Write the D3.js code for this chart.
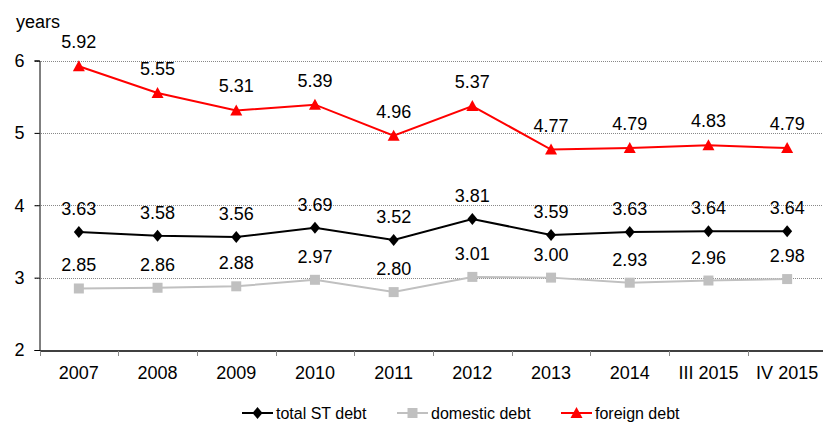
<!DOCTYPE html>
<html><head><meta charset="utf-8">
<script src="https://cdn.jsdelivr.net/npm/d3@7"></script>
<style>body{margin:0;background:#fff}svg{font-family:"Liberation Sans",Arial,sans-serif}</style>
</head><body><svg id="c" width="823" height="427"></svg>
<script>
const categories=["2007","2008","2009","2010","2011","2012","2013","2014","III 2015","IV 2015"];
const totalST=[3.63,3.58,3.56,3.69,3.52,3.81,3.59,3.63,3.64,3.64];
const domestic=[2.85,2.86,2.88,2.97,2.80,3.01,3.00,2.93,2.96,2.98];
const foreign=[5.92,5.55,5.31,5.39,4.96,5.37,4.77,4.79,4.83,4.79];
const yTicks=[2,3,4,5,6];

const svg=d3.select("#c");
const x=d3.scaleBand().domain(categories).range([39.5,826.5]);
const y=d3.scaleLinear().domain([2,6]).range([350,60.5]);
const fs=18;

const diamond={draw(ctx){ctx.moveTo(0,-6);ctx.lineTo(5,0);ctx.lineTo(0,6);ctx.lineTo(-5,0);ctx.closePath();}};
const square={draw(ctx){ctx.rect(-5,-5,10,10);}};
const triangle={draw(ctx){ctx.moveTo(0,-6);ctx.lineTo(6,5);ctx.lineTo(-6,5);ctx.closePath();}};

// gridlines
svg.append("g").selectAll("line").data(yTicks.filter(d=>d>2)).join("line")
 .attr("x1",35).attr("x2",823).attr("y1",d=>Math.round(y(d))+0.5).attr("y2",d=>Math.round(y(d))+0.5)
 .attr("stroke","#888").attr("stroke-dasharray","1,1");

// y axis
const ya=svg.append("g").attr("transform","translate(39.5,0)")
 .call(d3.axisLeft(y).tickValues(yTicks).tickSize(5).tickPadding(10).tickFormat(d3.format("d")));
ya.select(".domain").attr("stroke","#000");
ya.selectAll(".tick line").attr("stroke","#000");
ya.selectAll("text").attr("font-size",fs).attr("fill","#000").attr("font-family","Liberation Sans, Arial, sans-serif");

// x axis
const xa=svg.append("g").attr("transform","translate(0,350.5)")
 .call(d3.axisBottom(x).tickSize(0).tickPadding(16));
xa.select(".domain").attr("stroke","#000").attr("stroke-width",1.5);
xa.selectAll("text").attr("font-size",fs).attr("fill","#000").attr("font-family","Liberation Sans, Arial, sans-serif");
svg.append("g").selectAll("line").data(categories).join("line")
 .attr("x1",d=>Math.round(x(d))+0.5).attr("x2",d=>Math.round(x(d))+0.5)
 .attr("y1",351).attr("y2",356).attr("stroke","#888");

svg.append("text").attr("x",16).attr("y",28).attr("font-size",fs).text("years");

const cx=d=>x(d)+x.bandwidth()/2;
const line=d3.line().x((d,i)=>cx(categories[i])).y(d=>y(d));

function series(vals,color,shape,labelOff){
  const g=svg.append("g");
  g.append("path").datum(vals).attr("d",line).attr("fill","none").attr("stroke",color).attr("stroke-width",2);
  g.selectAll("path.m").data(vals).join("path").attr("class","m")
   .attr("d",d3.symbol().type(shape))
   .attr("transform",(d,i)=>`translate(${cx(categories[i])},${y(d)})`).attr("fill",color);
  g.selectAll("text").data(vals).join("text")
   .attr("x",(d,i)=>cx(categories[i])).attr("y",d=>y(d)-labelOff)
   .attr("text-anchor","middle").attr("font-size",fs).attr("fill","#000").text(d=>d.toFixed(2));
}
series(domestic,"#c0c0c0",square,17);
series(totalST,"#000",diamond,17);
series(foreign,"#ff0000",triangle,18);

// legend
const leg=[{n:"total ST debt",c:"#000",s:diamond,x:242},
 {n:"domestic debt",c:"#c0c0c0",s:square,x:397},
 {n:"foreign debt",c:"#ff0000",s:triangle,x:561}];
const lg=svg.append("g").selectAll("g").data(leg).join("g").attr("transform",d=>`translate(${d.x},413)`);
lg.append("line").attr("x1",0).attr("x2",31).attr("stroke",d=>d.c).attr("stroke-width",2);
lg.append("path").attr("d",d=>d3.symbol().type(d.s)()).attr("transform","translate(15.5,0)").attr("fill",d=>d.c);
lg.append("text").attr("x",34).attr("y",6).attr("font-size",16).text(d=>d.n);
</script></body></html>
